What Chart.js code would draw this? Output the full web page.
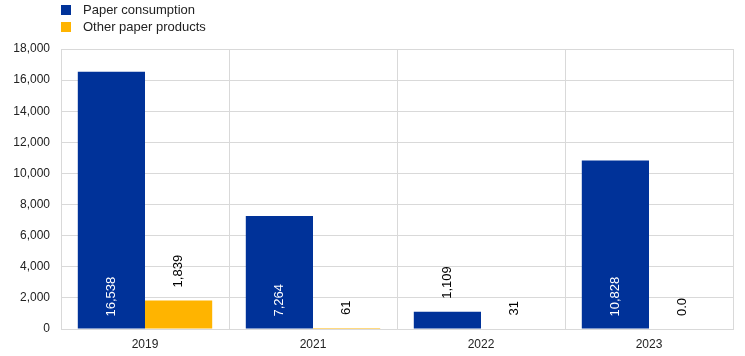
<!DOCTYPE html>
<html>
<head>
<meta charset="utf-8">
<script src="https://cdn.jsdelivr.net/npm/chart.js@4/dist/chart.umd.min.js"></script>
<style>
  html, body { margin: 0; padding: 0; background: #fff; }
  #wrap { position: relative; width: 745px; height: 356px; }
  #legend { position: absolute; left: 61px; top: 1px; font-family: "Liberation Sans", Arial, sans-serif; font-size: 13px; color: #222; }
  .item { display: flex; align-items: center; height: 17px; }
  .box { width: 10px; height: 10px; margin-right: 12px; }
</style>
</head>
<body>
<div id="wrap">
  <canvas id="c" width="745" height="356"></canvas>
  <div id="legend"></div>
</div>
<script>
const categories = ['2019', '2021', '2022', '2023'];
const seriesNames = ['Paper consumption', 'Other paper products'];
const paperConsumption = [16538, 7264, 1109, 10828];
const otherPaperProducts = [1839, 61, 31, 0];
const yTicks = [0, 2000, 4000, 6000, 8000, 10000, 12000, 14000, 16000, 18000];
const colors = ['#003299', '#FFB400'];

const legendEl = document.getElementById('legend');
seriesNames.forEach((n, i) => {
  const d = document.createElement('div'); d.className = 'item';
  const b = document.createElement('span'); b.className = 'box'; b.style.background = colors[i];
  const t = document.createElement('span'); t.textContent = n;
  d.appendChild(b); d.appendChild(t); legendEl.appendChild(d);
});

function fmt(v) { return v === 0 ? '0.0' : v.toLocaleString('en-US'); }

const labelPlugin = {
  id: 'barLabels',
  afterDatasetsDraw(chart) {
    const ctx = chart.ctx;
    ctx.save();
    ctx.font = '13px "Liberation Sans", Arial, sans-serif';
    chart.data.datasets.forEach((ds, di) => {
      const meta = chart.getDatasetMeta(di);
      meta.data.forEach((bar, i) => {
        const v = ds.data[i];
        const h = bar.base - bar.y;
        const txt = fmt(v);
        ctx.save();
        ctx.translate(bar.x, h > 50 ? bar.base - 12 : bar.y - 13);
        ctx.rotate(-Math.PI / 2);
        ctx.textAlign = 'left';
        ctx.textBaseline = 'middle';
        ctx.fillStyle = h > 50 ? '#ffffff' : '#000000';
        ctx.fillText(txt, 0, 0);
        ctx.restore();
      });
    });
    ctx.restore();
  }
};

new Chart(document.getElementById('c'), {
  type: 'bar',
  data: {
    labels: categories,
    datasets: [
      { label: seriesNames[0], data: paperConsumption, backgroundColor: colors[0], categoryPercentage: 0.8, barPercentage: 1.0 },
      { label: seriesNames[1], data: otherPaperProducts, backgroundColor: colors[1], categoryPercentage: 0.8, barPercentage: 1.0 }
    ]
  },
  options: {
    responsive: false,
    animation: false,
    maintainAspectRatio: false,
    layout: { padding: { top: 49, right: 12, left: 0, bottom: 0 } },
    plugins: { legend: { display: false }, tooltip: { enabled: false } },
    scales: {
      x: {
        afterFit(scale) { scale.height = 27; },
        grid: { color: '#d9d9d9', offset: true, drawTicks: false },
        border: { color: '#d9d9d9' },
        ticks: { color: '#222', font: { family: '"Liberation Sans", Arial, sans-serif', size: 12 }, padding: 8 }
      },
      y: {
        min: 0, max: 18000,
        afterBuildTicks(scale) { scale.ticks = yTicks.map(v => ({ value: v })); },
        afterFit(scale) { scale.width = 61; },
        grid: { color: '#d9d9d9', drawTicks: false },
        border: { color: '#d9d9d9' },
        ticks: { color: '#222', font: { family: '"Liberation Sans", Arial, sans-serif', size: 12 }, padding: 11,
          callback: v => v.toLocaleString('en-US') }
      }
    }
  },
  plugins: [labelPlugin]
});
</script>
</body>
</html>
